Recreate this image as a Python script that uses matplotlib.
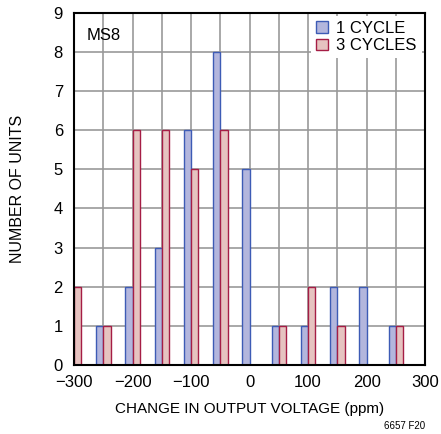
import numpy as np
import matplotlib.pyplot as plt

# bin centres (ppm) and counts
centers = [-300, -250, -200, -150, -100, -50, 0, 50, 100, 150, 200, 250]
one_cycle = [0, 1, 2, 3, 6, 8, 5, 1, 1, 2, 2, 1]
three_cycles = [2, 1, 6, 6, 5, 6, 0, 1, 2, 1, 0, 1]

BLUE_FILL = "#b3b6dd"
BLUE_EDGE = "#3d5bb5"
RED_FILL = "#e6c3c0"
RED_EDGE = "#a51d45"

plt.rcParams["font.family"] = ["Liberation Sans Narrow", "Liberation Sans", "DejaVu Sans"]

fig = plt.figure(figsize=(4.41, 4.34), dpi=100)
ax = fig.add_axes([0.168, 0.159, 0.796, 0.812])

w = 12.5
ax.bar(centers, one_cycle, width=-w, align="edge", color=BLUE_FILL,
       edgecolor=BLUE_EDGE, linewidth=1.0, label="1 CYCLE", zorder=3)
ax.bar(centers, three_cycles, width=w, align="edge", color=RED_FILL,
       edgecolor=RED_EDGE, linewidth=1.0, label="3 CYCLES", zorder=3)

ax.set_xlim(-300, 300)
ax.set_ylim(0, 9)
ax.set_xticks(np.arange(-300, 301, 100))
ax.set_xticklabels(["\u2212300", "\u2212200", "\u2212100", "0", "100", "200", "300"])
ax.set_xticks(np.arange(-250, 300, 100), minor=True)
ax.set_yticks(np.arange(0, 10, 1))
ax.grid(True, which="both", color="#999999", linewidth=1.2, zorder=0)
ax.tick_params(which="both", length=0, labelsize=12)
ax.tick_params(axis="x", pad=7)
ax.tick_params(axis="y", pad=8)
for s in ax.spines.values():
    s.set_linewidth(1.5)
    s.set_color("black")
    s.set_zorder(5)

ax.set_xlabel("CHANGE IN OUTPUT VOLTAGE (ppm)", fontsize=11)
ax.xaxis.set_label_coords(0.5, -0.105)
ax.set_ylabel("NUMBER OF UNITS", fontsize=11.5)
ax.yaxis.set_label_coords(-0.14, 0.5)

ax.text(0.035, 0.955, "MS8", transform=ax.transAxes, fontsize=12,
        va="top", ha="left", zorder=6)

leg = ax.legend(loc="upper right", fontsize=12, frameon=True, fancybox=False,
                handlelength=0.7, handleheight=0.7, handletextpad=0.5,
                labelspacing=0.15, borderpad=0.3, borderaxespad=0.2)
leg.get_frame().set_edgecolor("none")
leg.get_frame().set_facecolor("white")
leg.get_frame().set_alpha(1.0)
leg.set_zorder(6)

fig.text(0.963, 0.008, "6657 F20", fontsize=7, ha="right", va="bottom")

fig.savefig("out.png", dpi=100)
